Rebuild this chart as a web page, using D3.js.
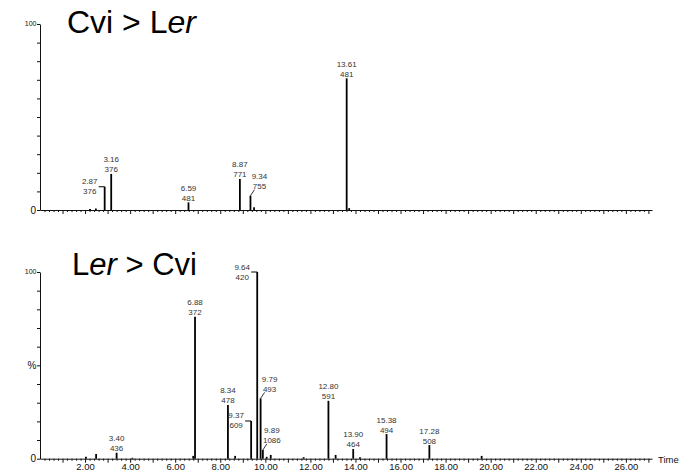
<!DOCTYPE html>
<html>
<head>
<meta charset="utf-8">
<script src="https://cdn.jsdelivr.net/npm/d3@7"></script>
<style>
  body { margin: 0; background: #fff; }
  svg { display: block; font-family: "Liberation Sans", Arial, sans-serif; }
  .axis path, .axis line { stroke: #111; }
  .peak { stroke: #000; stroke-width: 1.8; }
  .lbl { font-size: 8px; fill: #333; }
</style>
</head>
<body>
<div id="chart"></div>
<script>
// DATA
// top trace (Cvi > Ler): retention time (min), relative intensity (%)
const topTime   = [2.22, 2.48, 2.87, 3.16, 6.59, 8.87, 9.34, 9.50, 13.61, 13.72];
const topHeight = [0.6, 0.8, 12.5, 19.4, 4.1, 16.7, 7.7, 1.5, 70.8, 1.0];
const topLabelTime = [2.87, 3.16, 6.59, 8.87, 9.34, 13.61];
const topLabelMz   = [376, 376, 481, 771, 755, 481];

// bottom trace (Ler > Cvi)
const botTime   = [2.04, 2.49, 3.40, 4.10, 6.80, 6.88, 8.34, 8.66, 9.37, 9.64, 9.79, 9.89,
                   10.06, 10.24, 11.70, 12.80, 13.12, 13.90, 14.20, 15.38, 17.28, 19.60];
const botHeight = [1.0, 2.5, 3.2, 0.5, 1.5, 76.0, 28.8, 1.5, 20.2, 100, 32.3, 4.7,
                   1.0, 2.0, 0.8, 31.0, 2.0, 5.2, 0.8, 13.2, 7.3, 1.5];
const botLabelTime = [3.40, 6.88, 8.34, 9.37, 9.64, 9.79, 9.89, 12.80, 13.90, 15.38, 17.28];
const botLabelMz   = [436, 372, 478, 609, 420, 493, 1086, 591, 464, 494, 508];

const xTickLabels = [2, 4, 6, 8, 10, 12, 14, 16, 18, 20, 22, 24, 26];
const yTicks = [0, 10, 20, 30, 40, 50, 60, 70, 80, 90, 100];

// label placement: left of the peak with a flat leader, or up-right with a slanted one
const placeLeft  = [2.87, 9.37, 9.64];
const placeRight = [9.34, 9.79, 9.89];

// SETUP
const width = 687, height = 474;
const tMax = 27.16;

const svg = d3.select('#chart')
  .append('svg')
  .attr('width', width)
  .attr('height', height);

const x = d3.scaleLinear().domain([0, tMax]).range([40, 652]);
const yTop = d3.scaleLinear().domain([0, 100]).range([210, 24]);
const yBot = d3.scaleLinear().domain([0, 100]).range([458.7, 272]);

const drawPanel = (y, times, heights, labelTimes, labelMz, showX) => {
  const g = svg.append('g');

  // y axis
  g.append('g')
    .attr('class', 'axis')
    .attr('transform', `translate(${x(0)},0)`)
    .call(d3.axisLeft(y).tickValues(yTicks).tickSize(3).tickSizeOuter(0).tickFormat(''));

  // x axis: minor ticks every 0.2 min, major every minute
  const minor = d3.range(0, tMax, 0.2).filter(t => Math.abs(t - Math.round(t)) > 0.01);
  g.append('g')
    .attr('class', 'axis')
    .attr('transform', `translate(0,${y(0)})`)
    .call(d3.axisBottom(x).tickValues(minor).tickSize(2).tickSizeOuter(0).tickFormat(''));
  g.append('g')
    .attr('class', 'axis')
    .attr('transform', `translate(0,${y(0)})`)
    .call(d3.axisBottom(x).tickValues(d3.range(1, 28)).tickSize(4).tickSizeOuter(0).tickFormat(''))
    .call(a => a.select('.domain').remove());

  if (showX) {
    g.append('g')
      .attr('transform', `translate(0,${y(0)})`)
      .call(d3.axisBottom(x).tickValues(xTickLabels).tickSize(0).tickPadding(5)
        .tickFormat(d3.format('.2f')))
      .call(a => a.select('.domain').remove())
      .selectAll('text')
      .attr('font-size', '9.5px')
      .attr('font-family', '"Liberation Sans", Arial, sans-serif')
      .attr('fill', '#111');

    g.append('text')
      .attr('x', x(tMax) + 6)
      .attr('y', y(0) + 4)
      .attr('font-size', '9.5px')
      .attr('fill', '#111')
      .text('Time');
  }

  // y labels
  g.append('text')
    .attr('x', x(0) - 3.5).attr('y', y(100)).attr('dy', '0.35em')
    .attr('text-anchor', 'end').attr('font-size', '7px').attr('fill', '#111')
    .text('100');
  g.append('text')
    .attr('x', x(0) - 4).attr('y', y(0)).attr('dy', '0.35em')
    .attr('text-anchor', 'end').attr('font-size', '10px').attr('fill', '#111')
    .text('0');

  // peaks
  g.append('g')
    .selectAll('line')
    .data(times.map((t, i) => ({ t, v: heights[i] })))
    .join('line')
    .attr('class', 'peak')
    .attr('x1', d => x(d.t)).attr('x2', d => x(d.t))
    .attr('y1', y(0)).attr('y2', d => y(d.v));

  // peak labels
  labelTimes.forEach((t, i) => {
    const px = x(t), py = y(heights[times.indexOf(t)]);
    const txt = g.append('text').attr('class', 'lbl').attr('text-anchor', 'middle');
    let cx, by;
    if (placeLeft.includes(t)) {
      cx = px - 15; by = py + 7.5;
      g.append('line').attr('x1', px - 6).attr('x2', px).attr('y1', py).attr('y2', py)
        .attr('stroke', '#000').attr('stroke-width', 1);
    } else if (placeRight.includes(t)) {
      cx = px + 9; by = py - 6.5;
      g.append('line').attr('x1', px).attr('x2', px + 4).attr('y1', py).attr('y2', py - 6)
        .attr('stroke', '#000').attr('stroke-width', 0.8);
    } else {
      cx = px; by = py - 1.5;
    }
    txt.append('tspan').attr('x', cx).attr('y', by - 10).text(d3.format('.2f')(t));
    txt.append('tspan').attr('x', cx).attr('y', by).text(labelMz[i]);
  });
  return g;
};

drawPanel(yTop, topTime, topHeight, topLabelTime, topLabelMz, false);
const bottom = drawPanel(yBot, botTime, botHeight, botLabelTime, botLabelMz, true);

bottom.append('text')
  .attr('x', x(0) - 3.5).attr('y', yBot(50)).attr('dy', '0.35em')
  .attr('text-anchor', 'end').attr('font-size', '10px').attr('fill', '#111')
  .text('%');

// titles
const t1 = svg.append('text').attr('x', 67).attr('y', 33).attr('font-size', '32px').attr('fill', '#000');
t1.append('tspan').text('Cvi > L');
t1.append('tspan').attr('font-style', 'italic').text('er');

const t2 = svg.append('text').attr('x', 72).attr('y', 275).attr('font-size', '31px').attr('fill', '#000');
t2.append('tspan').text('L');
t2.append('tspan').attr('font-style', 'italic').text('er');
t2.append('tspan').text(' > Cvi');
</script>
</body>
</html>
